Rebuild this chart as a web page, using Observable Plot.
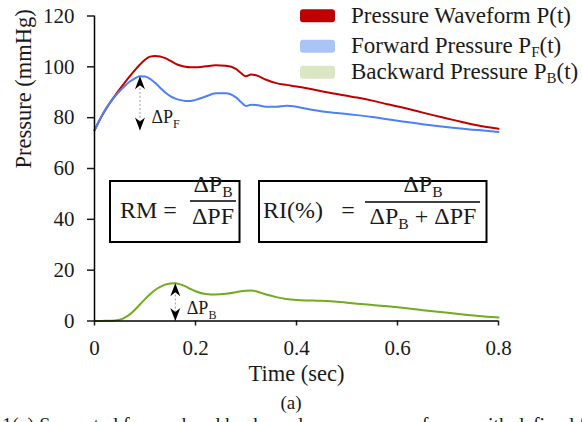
<!DOCTYPE html>
<html><head><meta charset="utf-8">
<script src="https://cdn.jsdelivr.net/npm/d3@7"></script>
<script src="https://cdn.jsdelivr.net/npm/@observablehq/plot@0.6"></script>
<style>
body{margin:0;background:#fff;}
#wrap{position:relative;width:582px;height:422px;overflow:hidden;font-family:"Liberation Serif","Times New Roman",serif;color:#1a1a1a;}
#sub{position:absolute;left:0;top:391px;width:582px;text-align:center;font-size:19px;line-height:24px;}
#cap{position:absolute;left:2px;top:415px;white-space:nowrap;font-size:20px;line-height:20px;}
</style></head><body>
<div id="wrap"><div id="chart"></div><div id="sub">(a)</div><div id="cap">1(a) Separated forward and backward pressure waveforms with defined flow</div></div>
<script>
const time = [0,0.01,0.02,0.03,0.04,0.05,0.06,0.07,0.08,0.09,0.10,0.11,0.12,0.13,0.14,0.15,0.16,0.17,0.18,0.19,0.20,
  0.22,0.24,0.26,0.28,0.29,0.30,0.31,0.32,0.34,0.36,0.38,0.40,0.42,0.44,0.46,0.48,0.50,0.52,
  0.55,0.58,0.61,0.64,0.67,0.70,0.73,0.76,0.80];
const pressure = [75.0,79.0,82.5,85.7,88.5,91.2,93.8,96.3,98.7,100.9,102.8,104.0,104.3,104.1,103.4,102.4,101.3,100.5,100.0,99.8,99.8,
  100.2,100.6,100.4,99.2,97.6,96.3,97.0,96.7,94.9,93.6,92.9,92.3,91.6,90.8,90.0,89.3,88.6,87.9,
  86.7,85.3,84.0,82.5,81.0,79.6,78.2,76.9,75.6];
const forward = [75.0,79.1,82.7,85.7,88.3,90.5,92.5,94.2,95.5,96.3,96.2,95.3,93.7,91.8,89.9,88.5,87.5,86.9,86.6,86.6,87.0,
  88.3,89.6,89.6,88.0,86.2,84.6,85.1,85.0,84.3,84.3,84.7,84.3,83.5,82.8,82.2,81.8,81.4,81.0,
  80.3,79.4,78.5,77.7,76.9,76.2,75.6,75.1,74.4];
const backward = [0,0,0.1,0.1,0.2,0.5,1.3,2.6,4.4,6.5,8.6,10.5,12.2,13.4,14.3,14.8,14.9,14.4,13.6,12.6,11.7,
  10.6,10.4,10.7,11.3,11.7,11.9,12.0,11.7,10.4,9.4,8.7,8.3,8.1,8.0,7.9,7.6,7.2,6.8,
  6.3,5.8,5.2,4.5,3.8,3.2,2.6,2.0,1.4];
const xTicks = [0,0.2,0.4,0.6,0.8];
const xTickLabels = ["0","0.2","0.4","0.6","0.8"];
const yTicks = [0,20,40,60,80,100,120];
const seriesNames = ["Pressure Waveform P", "Forward Pressure P", "Backward Pressure P"];
const seriesSubs = ["", "F", "B"];
const lineColors = ["#c00000", "#4a82f5", "#72ab1f"];
const swatchColors = ["#c00000", "#aac4f5", "#dae6c4"];

const rows = time.map((t, i) => ({t, p: pressure[i], f: forward[i], b: backward[i]}));
const iF = d3.maxIndex(forward), iB = d3.maxIndex(backward);
const arrows = [
  {t: time[iF], top: forward[iF], bottom: forward[0], sub: "F"},
  {t: time[iB], top: backward[iB], bottom: 0, sub: "B"}
];
const headUp = {draw(c){ c.moveTo(0,0); c.lineTo(5,13); c.lineTo(0,9); c.lineTo(-5,13); c.closePath(); }};
const headDown = {draw(c){ c.moveTo(0,0); c.lineTo(5,-13); c.lineTo(0,-9); c.lineTo(-5,-13); c.closePath(); }};

const chart = Plot.plot({
  width: 582, height: 392,
  marginTop: 15.5, marginRight: 84, marginBottom: 71.5, marginLeft: 94,
  style: {fontFamily: "'Liberation Serif','Times New Roman',serif", fontSize: "21px", color: "#1a1a1a", background: "#fff", overflow: "visible"},
  x: {domain: [0, 0.8]},
  y: {domain: [0, 120]},
  marks: [
    Plot.ruleX(arrows, {x: "t", y1: "bottom", y2: "top", stroke: "#9a9a9a", strokeDasharray: "2,2", strokeWidth: 1}),
    Plot.line(rows, {x: "t", y: "p", stroke: lineColors[0], strokeWidth: 2, curve: "monotone-x"}),
    Plot.line(rows, {x: "t", y: "f", stroke: lineColors[1], strokeWidth: 2, curve: "monotone-x"}),
    Plot.line(rows, {x: "t", y: "b", stroke: lineColors[2], strokeWidth: 2, curve: "monotone-x"}),
    Plot.dot(arrows, {x: "t", y: "top", symbol: headUp, fill: "#000"}),
    Plot.dot(arrows, {x: "t", y: "bottom", symbol: headDown, fill: "#000"}),
    Plot.axisX({ticks: xTicks, tickFormat: d => xTickLabels[xTicks.indexOf(d)], tickSize: 5, tickPadding: 14, label: null, strokeWidth: 1.5}),
    Plot.axisY({ticks: yTicks, tickSize: 7, tickPadding: 13, label: null, strokeWidth: 1.5}),
    Plot.ruleX([0], {stroke: "#000", strokeWidth: 1.5}),
    Plot.ruleY([0], {stroke: "#000", strokeWidth: 1.5}),
    Plot.text(["Time (sec)"], {frameAnchor: "bottom", dy: 59.5, fontSize: 22.5}),
    Plot.text(["Pressure (mmHg)"], {frameAnchor: "left", dx: -71, rotate: -90, fontSize: 22.5})
  ]
});
document.getElementById("chart").appendChild(chart);

const svg = d3.select(chart);
const xs = chart.scale("x"), ys = chart.scale("y");

// Delta labels near arrows
arrows.forEach(a => {
  const t = svg.append("text").attr("x", xs.apply(a.t) + 12).attr("y", ys.apply(a.bottom) - 7)
    .attr("text-anchor", "start").attr("font-size", 18).attr("fill", "#1a1a1a");
  t.append("tspan").text("ΔP");
  t.append("tspan").attr("font-size", 12).attr("dy", 5).text(a.sub);
});

// Legend
const lg = svg.append("g").attr("text-anchor", "start");
const lgBase = [22.7, 53.3, 79.3];
seriesNames.forEach((n, i) => {
  lg.append("rect").attr("x", 300).attr("y", lgBase[i] - 13.5).attr("width", 35).attr("height", 13).attr("rx", 3).attr("fill", swatchColors[i]);
  const t = lg.append("text").attr("x", 351).attr("y", lgBase[i]).attr("font-size", 23).attr("fill", "#1a1a1a");
  t.append("tspan").text(n);
  if (seriesSubs[i]) {
    t.append("tspan").attr("font-size", 15).attr("dy", 4).text(seriesSubs[i]);
    t.append("tspan").attr("dy", -4).text("(t)");
  } else {
    t.append("tspan").text("(t)");
  }
});

// Equation boxes
function deltaPB(sel, fs) {
  sel.append("tspan").text("ΔP");
  sel.append("tspan").attr("font-size", fs * 0.65).attr("dy", 5).text("B");
}
const eq = svg.append("g").attr("font-size", 24).attr("fill", "#1a1a1a").attr("text-anchor", "start");
eq.append("rect").attr("x", 110).attr("y", 181).attr("width", 129.5).attr("height", 61).attr("fill", "#fff").attr("stroke", "#000").attr("stroke-width", 2);
eq.append("rect").attr("x", 259).attr("y", 181).attr("width", 227.5).attr("height", 61).attr("fill", "#fff").attr("stroke", "#000").attr("stroke-width", 2);
eq.append("text").attr("x", 120).attr("y", 218).text("RM");
eq.append("text").attr("x", 170).attr("y", 218).attr("text-anchor", "middle").text("=");
deltaPB(eq.append("text").attr("x", 213).attr("y", 192).attr("text-anchor", "middle"), 24);
eq.append("line").attr("x1", 190).attr("x2", 236).attr("y1", 201).attr("y2", 201).attr("stroke", "#000").attr("stroke-width", 1.3);
eq.append("text").attr("x", 213).attr("y", 224).attr("text-anchor", "middle").text("ΔPF");

eq.append("text").attr("x", 263).attr("y", 218).text("RI(%)");
eq.append("text").attr("x", 348).attr("y", 218).attr("text-anchor", "middle").text("=");
deltaPB(eq.append("text").attr("x", 423).attr("y", 192).attr("text-anchor", "middle"), 24);
eq.append("line").attr("x1", 365).attr("x2", 480).attr("y1", 202).attr("y2", 202).attr("stroke", "#000").attr("stroke-width", 1.3);
const den = eq.append("text").attr("x", 423).attr("y", 224).attr("text-anchor", "middle");
den.append("tspan").text("ΔP");
den.append("tspan").attr("font-size", 15.6).attr("dy", 5).text("B");
den.append("tspan").attr("dy", -5).text(" + ΔPF");
</script>
</body></html>
